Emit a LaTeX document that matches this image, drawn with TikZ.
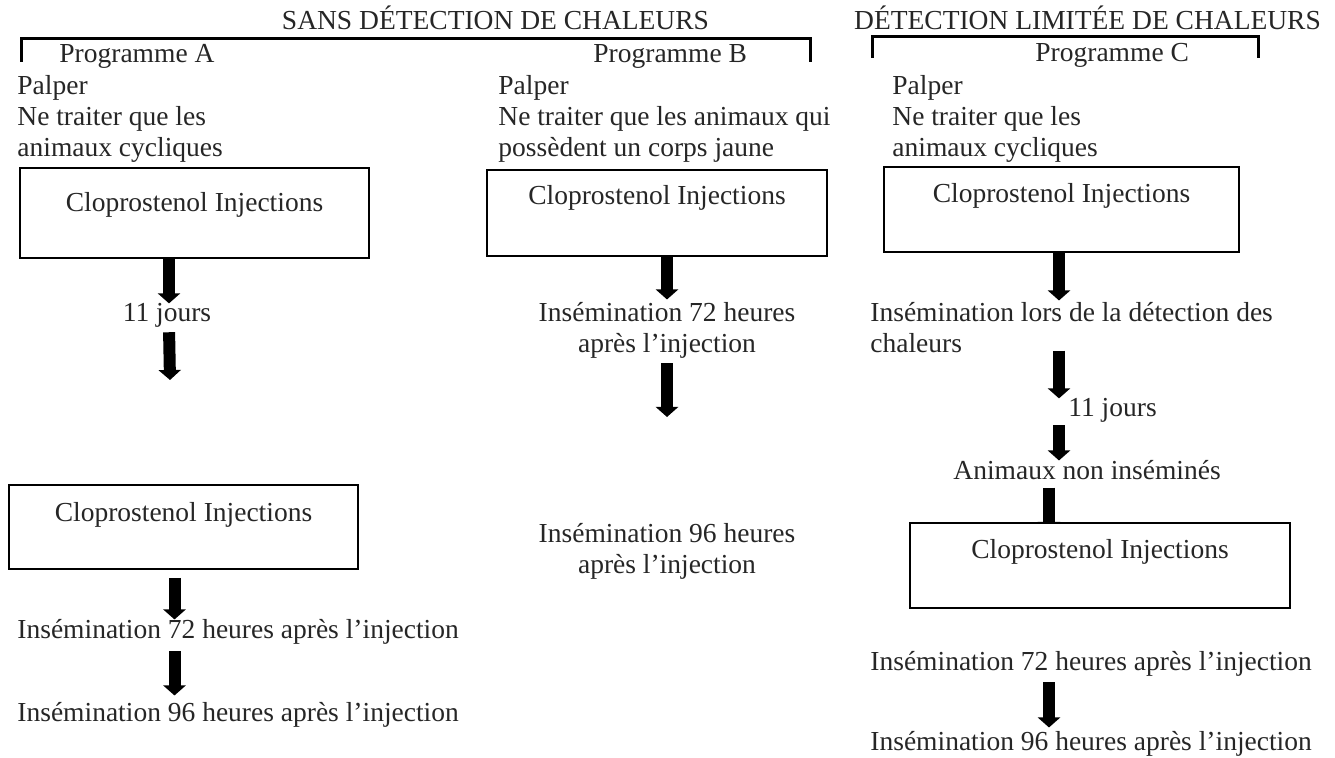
\documentclass[tikz,border=0pt]{standalone}
\usepackage{fontspec}
\setmainfont{Liberation Serif}
\usetikzlibrary{arrows.meta, backgrounds}

\begin{document}
\begin{tikzpicture}[x=0.5pt, y=-0.5pt,
  every node/.style={inner sep=0pt, text=black!85,
    font=\fontsize{13.75pt}{15.5pt}\selectfont},
  txt/.style={anchor=base west, align=left},
  injbox/.style={draw=black, fill=white, line width=1pt, anchor=north west},
  bigarrow/.style={line width=6pt, -{Triangle[width=11pt, length=5pt]}},
  bracket/.style={line width=1.5pt}]
\useasboundingbox (0,0) rectangle (1335,758);

% titles
\node[anchor=base] (titleAB) at (495.5,30) {SANS DÉTECTION DE CHALEURS};
\node[anchor=base] (titleC) at (1087.5,30) {DÉTECTION LIMITÉE DE CHALEURS};
\draw[bracket] (21,62) -- (21,39) -- (810,39) -- (810,62);
\draw[bracket] (872,58) -- (872,37) -- (1258,37) -- (1258,58);

\node[txt] (progA) at (59,63) {Programme A};
\node[txt] (progB) at (593,63) {Programme B};
\node[txt] (progC) at (1035,62) {Programme C};

% left
\node[txt] (introA) at (17,157) {Palper\\Ne traiter que les\\animaux cycliques};
\node[injbox, minimum width=174.5pt, text height=22pt, text depth=23pt]
  (boxA1) at (19,167) {Cloprostenol Injections};
\node[anchor=base] (joursA) at (167,322) {11 jours};
\node[injbox, minimum width=174.5pt, text height=18.5pt, text depth=23.5pt]
  (boxA2) at (8,484) {Cloprostenol Injections};
\node[txt] (ins72A) at (17,639) {Insémination 72 heures après l’injection};
\node[txt] (ins96A) at (17,722) {Insémination 96 heures après l’injection};

% middle
\node[txt] (introB) at (498,157) {Palper\\Ne traiter que les animaux qui\\possèdent un corps jaune};
\node[injbox, minimum width=170pt, text height=17.5pt, text depth=25.5pt]
  (boxB1) at (486,169) {Cloprostenol Injections};
\node[anchor=base, align=center] (ins72B) at (667,353) {Insémination 72 heures\\après l’injection};
\node[anchor=base, align=center] (ins96B) at (667,574) {Insémination 96 heures\\après l’injection};

% right
\node[txt] (introC) at (892,157) {Palper\\Ne traiter que les\\animaux cycliques};
\node[injbox, minimum width=177.5pt, text height=18pt, text depth=24.5pt]
  (boxC1) at (883,166) {Cloprostenol Injections};
\node[txt] (lorsC) at (870,353) {Insémination lors de la détection des\\chaleurs};
\node[txt] (joursC) at (1068,417) {11 jours};
\node[txt] (animC) at (953,480) {Animaux non inséminés};
\node[injbox, minimum width=190pt, text height=18pt, text depth=24.5pt]
  (boxC2) at (909,522) {Cloprostenol Injections};
\node[txt] (ins72C) at (870,671) {Insémination 72 heures après l’injection};
\node[txt] (ins96C) at (870,751) {Insémination 96 heures après l’injection};

% arrow columns
\coordinate (colA1) at (169,0);
\coordinate (colA2) at (174.5,0);
\coordinate (colB) at (667,0);
\coordinate (colC1) at (1059,0);
\coordinate (colC2) at (1049,0);
\coordinate (endA) at (170,380);
\coordinate (endB) at (667,417);

\draw[bigarrow] (boxA1.south -| colA1) -- (joursA.north -| colA1);
\draw[bigarrow, shorten <=2pt] (joursA.south -| colA1) -- (endA);
\draw[bigarrow, shorten <=4pt] (boxA2.south -| colA2) -- (ins72A.north -| colA2);
\draw[bigarrow, shorten <=3pt, shorten >=3.5pt] (ins72A.south -| colA2) -- (ins96A.north -| colA2);

\draw[bigarrow, shorten >=1.5pt] (boxB1.south -| colB) -- (ins72B.north -| colB);
\draw[bigarrow, shorten <=2pt] (ins72B.south -| colB) -- (endB);

\draw[bigarrow, shorten >=1pt] (boxC1.south -| colC1) -- (lorsC.north -| colC1);
\draw[bigarrow, shorten <=-1.5pt] (lorsC.south -| colC1) -- (joursC.north -| colC1);
\draw[bigarrow, shorten <=1pt] (joursC.south -| colC1) -- (animC.north -| colC1);
\begin{scope}[on background layer]
\draw[bigarrow, shorten <=3.5pt, shorten >=-5pt] (animC.south -| colC2) -- (boxC2.north -| colC2);
\end{scope}
\draw[bigarrow, shorten <=2.5pt, shorten >=2pt] (ins72C.south -| colC2) -- (ins96C.north -| colC2);
\end{tikzpicture}
\end{document}
